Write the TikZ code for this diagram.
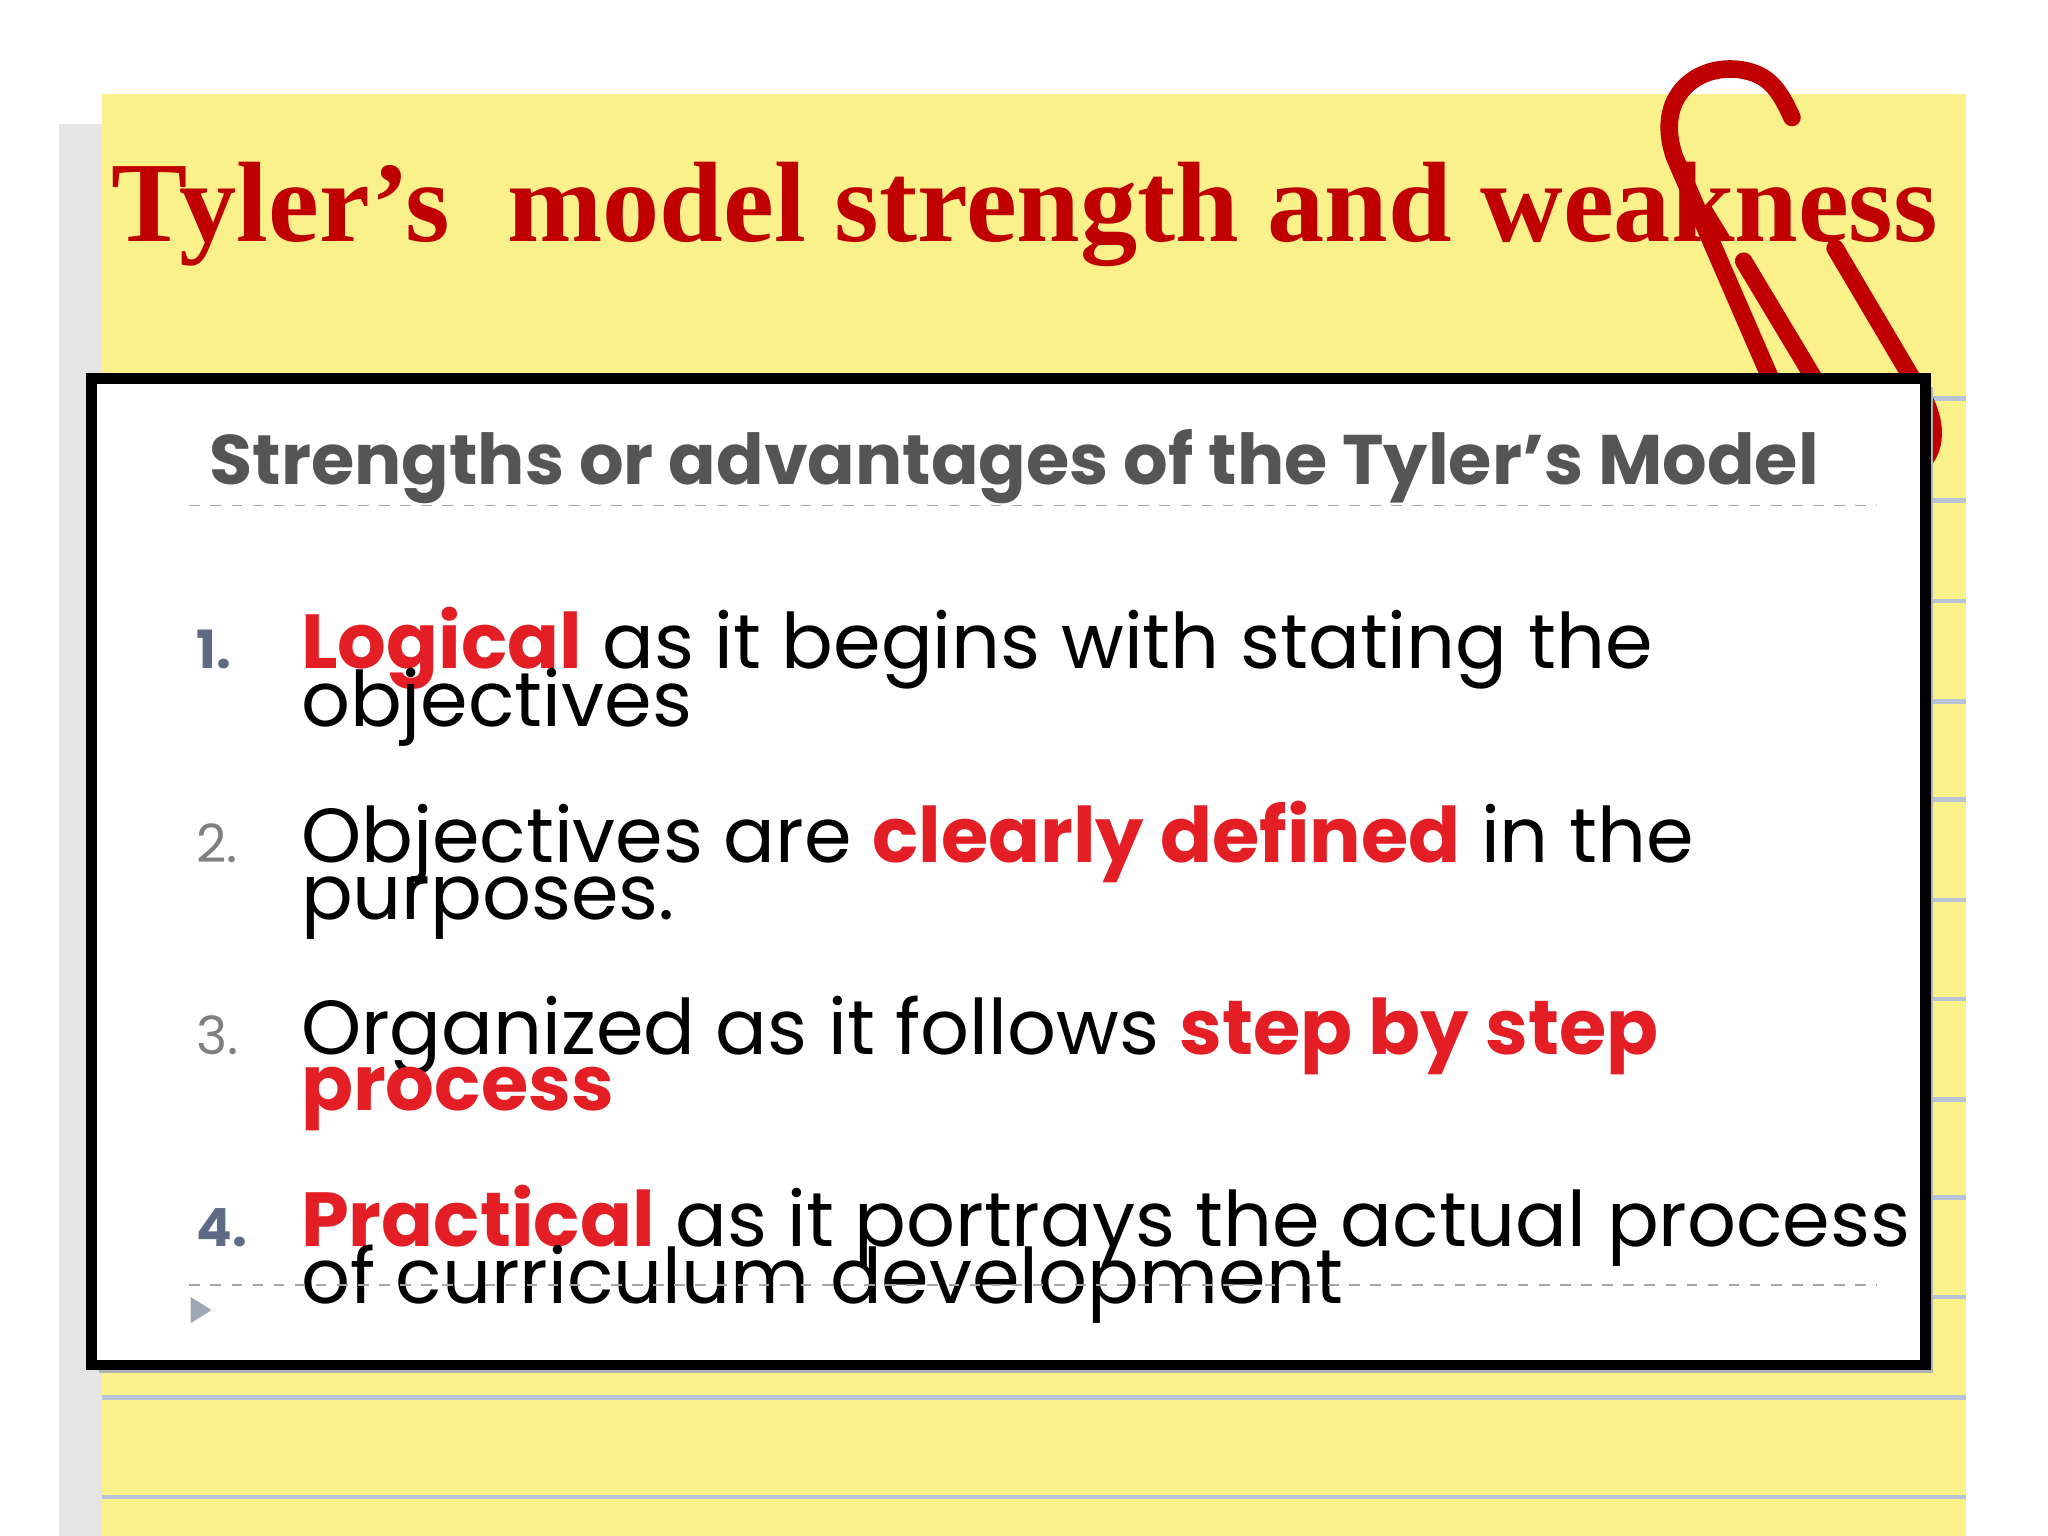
\documentclass[tikz,border=0pt]{standalone}
\usepackage{fontspec}
\setmainfont{Liberation Serif}
\newfontfamily\gothic{Poppins}
\definecolor{pad}{HTML}{FBF18A}
\definecolor{rule}{HTML}{B9C3D6}
\definecolor{ttl}{HTML}{C00000}
\definecolor{hl}{HTML}{E31E24}
\definecolor{num}{HTML}{5F6B86}
\definecolor{hd}{HTML}{555555}
\tikzset{
  itemtxt/.style={anchor=base west, inner sep=0pt, font=\gothic\fontsize{21.8}{21.8}\selectfont, text=black},
  numtxt/.style={anchor=base west, inner sep=0pt, font=\gothic\fontsize{15}{15}\selectfont, text=gray},
}
\begin{document}
\begin{tikzpicture}[x=0.01306cm,y=-0.01306cm]
\useasboundingbox (0,0) rectangle (1568,1176);
\fill[white] (0,0) rectangle (1568,1176);
\fill[black!10] (45,95) rectangle (78,1176);
\fill[pad] (78,72) rectangle (1505,1176);
\foreach \yy in {305,383,460,537,612,689,765,842,917,993,1070,1146}
  \draw[rule, line width=1.3pt] (78,\yy) -- (1505,\yy);
% title
\node[anchor=base west, inner sep=0pt, text=ttl] (title) at (85,185)
  {\resizebox{18.26cm}{!}{\bfseries Tyler’s\ \ model strength and weakness}};
% paper clip
\draw[ttl, line width=5pt, line cap=round] (1360,300) -- (1282,120) .. controls (1265,70) and (1305,45) .. (1340,55) .. controls (1358,60) and (1365,75) .. (1372,90);
\draw[ttl, line width=5pt, line cap=round] (1335,200) -- (1395,300) ;
\draw[ttl, line width=5pt, line cap=round] (1405,190) -- (1470,300) .. controls (1488,330) and (1478,350) .. (1470,355);
% box
\fill[black!30] (76,296) rectangle (1480,1051);
\draw[fill=white, line width=3pt] (70,290) rectangle (1474,1045);
\node[anchor=base west, inner sep=0pt, text=hd] (head) at (160,371)
  {\resizebox{16.09cm}{!}{\gothic\bfseries\fontsize{17}{17}\selectfont Strengths or advantages of the Tyler’s Model}};
\draw[gray!70, dashed, line width=0.5pt] (145,387) -- (1437,387);
% items
\node[numtxt, text=num, font=\gothic\bfseries\fontsize{15}{15}\selectfont] (n1) at (150,512) {1.};
\node[itemtxt] (l1a) at (230,512) {{\bfseries\color{hl}Logical} as it begins with stating the};
\node[itemtxt] (l1b) at (230,556) {objectives};
\node[numtxt] (n2) at (150,660) {2.};
\node[itemtxt] (l2a) at (230,660) {Objectives are {\bfseries\color{hl}clearly defined} in the};
\node[itemtxt] (l2b) at (230,704) {purposes.};
\node[numtxt] (n3) at (150,807) {3.};
\node[itemtxt] (l3a) at (230,807) {Organized as it follows {\bfseries\color{hl}step by step}};
\node[itemtxt] (l3b) at (230,850) {{\bfseries\color{hl}process}};
\node[numtxt, text=num, font=\gothic\bfseries\fontsize{15}{15}\selectfont] (n4) at (150,954) {4.};
\node[itemtxt] (l4a) at (230,954) {{\bfseries\color{hl}Practical} as it portrays the actual process};
\node[itemtxt] (l4b) at (230,998) {of curriculum development};
\draw[gray!70, dashed, line width=0.5pt] (145,984) -- (1437,984);
\fill[num!60] (146,993) -- (162,1003) -- (146,1013) -- cycle;
\end{tikzpicture}
\end{document}
